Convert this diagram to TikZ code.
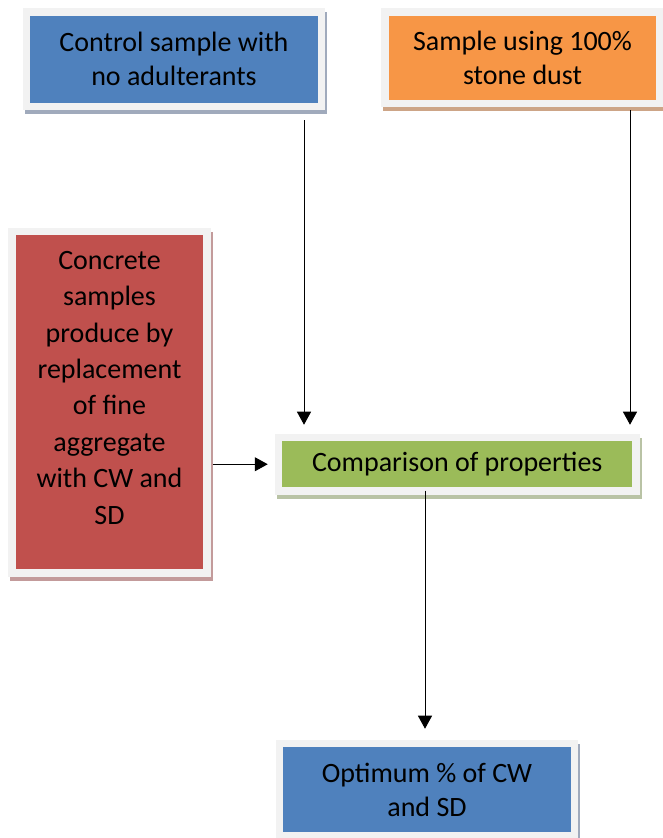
\documentclass[tikz,border=0pt]{standalone}
\usepackage{fontspec}
\setmainfont{Carlito}
\usetikzlibrary{arrows.meta}
\usetikzlibrary{positioning}

\definecolor{frame}{RGB}{242,242,242}
\definecolor{boxblue}{RGB}{79,129,189}
\definecolor{boxorange}{RGB}{247,150,70}
\definecolor{boxred}{RGB}{192,80,77}
\definecolor{boxgreen}{RGB}{155,187,89}
\definecolor{shblue}{RGB}{160,170,188}
\definecolor{shorange}{RGB}{205,165,135}
\definecolor{shred}{RGB}{195,155,155}
\definecolor{shgreen}{RGB}{185,195,165}

\begin{document}
\begin{tikzpicture}
    [x=1pt, y=1pt,
      % Rahmen um jede Box
      card/.style={draw=frame, line width=7.5pt, inner sep=0pt, align=center,
        font=\fontsize{28}{34}\selectfont},
      % Schatten unter der Box
      shade/.style={preaction={draw=#1, fill=#1, line width=7.5pt,
        transform canvas={shift={(2pt,-4pt)}}}},
      bl/.style={card, fill=boxblue, shade=shblue},
      og/.style={card, fill=boxorange, shade=shorange},
      rd/.style={card, fill=boxred, shade=shred},
      gr/.style={card, fill=boxgreen, shade=shgreen},
      % Pfeile
      arr/.style={-{Triangle[length=13pt,width=14pt]}, line width=1pt}]
    \useasboundingbox (0,0) rectangle (662,838);

    % Knoten
    \node[bl, minimum width=295pt, minimum height=94.5pt] (ctrl) at (174,778.75)
      {Control sample with\\no adulterants};
    \node[og, minimum width=275pt, minimum height=91.5pt] (dust) at (522.5,780.25)
      {Sample using 100\%\\stone dust};
    \node[rd, minimum width=195pt, minimum height=341.5pt,
      font=\fontsize{28}{36.4}\selectfont] (mix) at (109.5,435.75)
      {Concrete\\samples\\produce by\\replacement\\of fine\\aggregate\\with CW and\\SD\\[-7pt]\mbox{}};
    \node[gr, minimum width=357.5pt, minimum height=53.5pt] (cmp) at (457.25,373.75)
      {Comparison of properties};
    \node[bl, minimum width=295pt, minimum height=92pt] (opt) at (427,48.5)
      {Optimum \% of CW\\and SD};

    % Hilfspunkte
    \coordinate (ctrlout) at ([xshift=130pt,yshift=-10pt]ctrl.south);
    \coordinate (dustout) at ([xshift=107.5pt,yshift=-3pt]dust.south);
    \coordinate (mixout) at ([xshift=2pt]mix.east);
    \coordinate (cmptop) at ([yshift=9pt]cmp.north);
    \coordinate (cmpout) at ([xshift=-32.25pt,yshift=4pt]cmp.south);
    \coordinate (opttop) at ([yshift=11pt]opt.north);

    % Kanten
    \draw[arr] (ctrlout) -- (ctrlout |- cmptop);
    \draw[arr] (dustout) -- (dustout |- cmptop);
    \draw[arr] (mixout |- cmp.west) -- ([xshift=-7pt]cmp.west);
    \draw[arr] (cmpout) -- (cmpout |- opttop);
\end{tikzpicture}
\end{document}
